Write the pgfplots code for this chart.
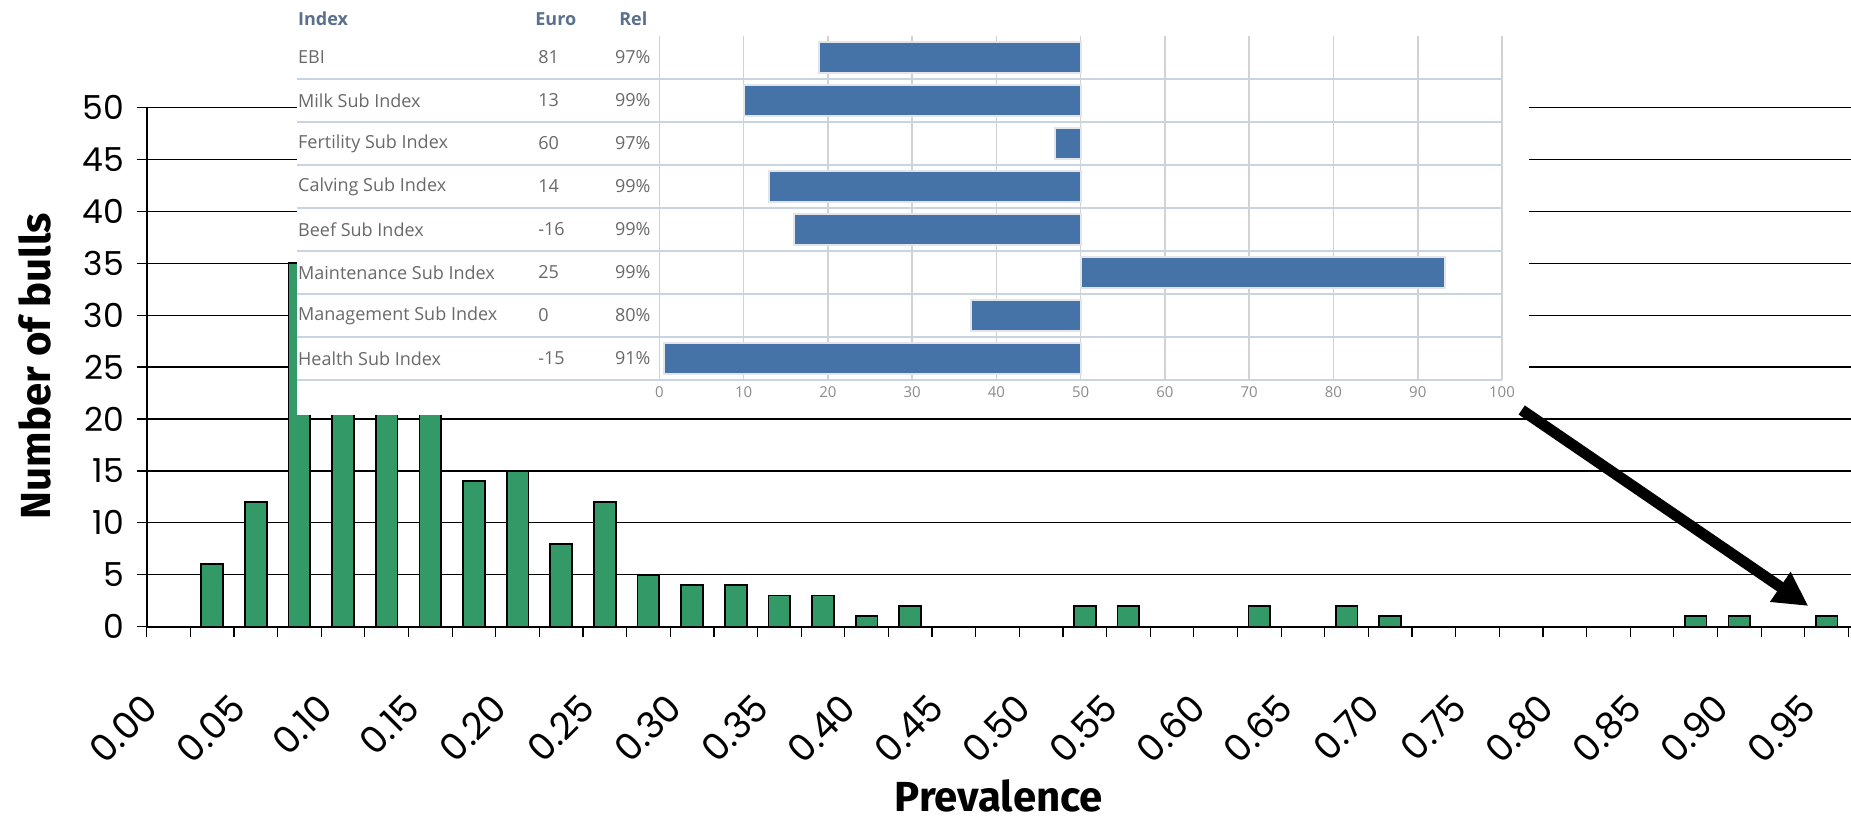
\documentclass[border=0pt]{standalone}
\usepackage{fontspec}
\usepackage{pgfplots}
\pgfplotsset{compat=1.18}
\usepackage{pgfplotstable}
\usetikzlibrary{arrows.meta}
\setmainfont{Liberation Sans}
\newfontfamily\tickfont{Poppins}
\newfontfamily\labfont{Fira Sans}
\newfontfamily\tabfont{Open Sans}

\definecolor{bargreen}{RGB}{51,153,102}
\definecolor{hcblue}{RGB}{69,114,167}
\definecolor{hcborder}{RGB}{225,228,232}
\definecolor{rowline}{RGB}{200,212,226}
\definecolor{gridgray}{RGB}{210,210,210}
\definecolor{txtgray}{RGB}{105,105,105}
\definecolor{headblue}{RGB}{90,112,140}
\definecolor{ticgray}{RGB}{140,140,140}

\tikzset{
  tabtxt/.style={font=\tabfont\fontsize{9}{11}\selectfont, text=txtgray, inner sep=0pt},
  tabhead/.style={font=\tabfont\bfseries\fontsize{9}{11}\selectfont, text=headblue, inner sep=0pt, anchor=west},
}

\pgfplotstableread{
x y
0.0375 6
0.0625 12
0.0875 35
0.1125 21
0.1375 21
0.1625 21
0.1875 14
0.2125 15
0.2375 8
0.2625 12
0.2875 5
0.3125 4
0.3375 4
0.3625 3
0.3875 3
0.4125 1
0.4375 2
0.5375 2
0.5625 2
0.6375 2
0.6875 2
0.7125 1
0.8875 1
0.9125 1
0.9625 1
}\histdata

% inset bars: value relative to the 50 centre line (row 8 = EBI ... row 1 = Health)
\pgfplotstableread{
v r
-31 8
-40 7
-3 6
-37 5
-34 4
43.2 3
-13 2
-49.5 1
}\insetdata

\begin{document}
\begin{tikzpicture}
\path[use as bounding box] (0,0) rectangle (925.5pt,409.5pt);

\begin{axis}[
  at={(73.35pt,96.15pt)}, anchor=south west,
  scale only axis, width=852.15pt, height=259.65pt,
  xmin=0, xmax=0.9765, ymin=0, ymax=50,
  axis x line*=bottom, axis y line*=left,
  xtick={0,0.05,0.1,0.15,0.2,0.25,0.3,0.35,0.4,0.45,0.5,0.55,0.6,0.65,0.7,0.75,0.8,0.85,0.9,0.95},
  xticklabels={0.00,0.05,0.10,0.15,0.20,0.25,0.30,0.35,0.40,0.45,0.50,0.55,0.60,0.65,0.70,0.75,0.80,0.85,0.90,0.95},
  minor xtick={0.025,0.075,0.125,0.175,0.225,0.275,0.325,0.375,0.425,0.475,0.525,0.575,0.625,0.675,0.725,0.775,0.825,0.875,0.925,0.975},
  ytick={0,5,...,50},
  tick align=outside, major tick length=5pt, minor tick length=5pt,
  tick style={black, line width=0.6pt},
  ymajorgrids, major grid style={black, line width=0.6pt},
  axis line style={black, line width=0.8pt},
  /pgf/number format/assume math mode=true,
  yticklabel style={font=\tickfont\fontsize{16.5}{19}\selectfont, xshift=-2.9pt},
  xticklabel style={font=\tickfont\fontsize{18.5}{21}\selectfont, inner sep=3pt, xshift=4.3pt, yshift=-30pt, rotate=45, anchor=east},
  xlabel={Prevalence}, ylabel={Number of bulls},
  xlabel style={at={(rel axis cs:0.5,-0.326)}, anchor=center, inner sep=0pt, font=\labfont\bfseries\fontsize{21}{25}\selectfont},
  ylabel style={at={(rel axis cs:-0.0655,0.502)}, anchor=center, inner sep=0pt, font=\labfont\bfseries\fontsize{21}{25}\selectfont},
]
\addplot[ybar, bar width=0.0125, fill=bargreen, draw=black, line width=0.9pt] table[x=x, y=y] {\histdata};
\end{axis}

% inset screenshot background
\fill[white] (148.5pt,202pt) rectangle (764.5pt,409.5pt);

\begin{axis}[
  at={(329.65pt,219.5pt)}, anchor=south west,
  scale only axis, width=421.35pt, height=172pt,
  xmin=-50, xmax=50, ymin=0.5, ymax=8.5,
  clip=false,
  axis line style={draw=none},
  xtick={-50,-40,...,50},
  xticklabels={0,10,20,30,40,50,60,70,80,90,100},
  ytick=\empty,
  major tick length=0pt,
  xmajorgrids, major grid style={gridgray, line width=0.8pt},
  xticklabel style={font=\tabfont\fontsize{7.5}{9}\selectfont, text=ticgray},
]
\addplot[xbar, bar width=0.72, fill=hcblue, draw=hcborder, line width=1pt] table[x=v, y=r] {\insetdata};

\draw[rowline, line width=0.9pt] (axis cs:-93,0.5) -- (axis cs:50,0.5);
\draw[rowline, line width=0.9pt] (axis cs:-93,1.5) -- (axis cs:50,1.5);
\draw[rowline, line width=0.9pt] (axis cs:-93,2.5) -- (axis cs:50,2.5);
\draw[rowline, line width=0.9pt] (axis cs:-93,3.5) -- (axis cs:50,3.5);
\draw[rowline, line width=0.9pt] (axis cs:-93,4.5) -- (axis cs:50,4.5);
\draw[rowline, line width=0.9pt] (axis cs:-93,5.5) -- (axis cs:50,5.5);
\draw[rowline, line width=0.9pt] (axis cs:-93,6.5) -- (axis cs:50,6.5);
\draw[rowline, line width=0.9pt] (axis cs:-93,7.5) -- (axis cs:50,7.5);

\node[tabhead] at (axis cs:-92.9,8.9) {Index};
\node[tabhead] at (axis cs:-64.75,8.9) {Euro};
\node[tabhead] at (axis cs:-54.8,8.9) {Rel};
\node[tabtxt, anchor=west] at (axis cs:-92.9,8) {EBI};
\node[tabtxt, anchor=west] at (axis cs:-92.9,7) {Milk Sub Index};
\node[tabtxt, anchor=west] at (axis cs:-92.9,6) {Fertility Sub Index};
\node[tabtxt, anchor=west] at (axis cs:-92.9,5) {Calving Sub Index};
\node[tabtxt, anchor=west] at (axis cs:-92.9,4) {Beef Sub Index};
\node[tabtxt, anchor=west] at (axis cs:-92.9,3) {Maintenance Sub Index};
\node[tabtxt, anchor=west] at (axis cs:-92.9,2) {Management Sub Index};
\node[tabtxt, anchor=west] at (axis cs:-92.9,1) {Health Sub Index};
\node[tabtxt, anchor=west] at (axis cs:-64.4,8) {81};
\node[tabtxt, anchor=west] at (axis cs:-64.4,7) {13};
\node[tabtxt, anchor=west] at (axis cs:-64.4,6) {60};
\node[tabtxt, anchor=west] at (axis cs:-64.4,5) {14};
\node[tabtxt, anchor=west] at (axis cs:-64.4,4) {-16};
\node[tabtxt, anchor=west] at (axis cs:-64.4,3) {25};
\node[tabtxt, anchor=west] at (axis cs:-64.4,2) {0};
\node[tabtxt, anchor=west] at (axis cs:-64.4,1) {-15};
\node[tabtxt, anchor=east] at (axis cs:-51.0,8) {97\%};
\node[tabtxt, anchor=east] at (axis cs:-51.0,7) {99\%};
\node[tabtxt, anchor=east] at (axis cs:-51.0,6) {97\%};
\node[tabtxt, anchor=east] at (axis cs:-51.0,5) {99\%};
\node[tabtxt, anchor=east] at (axis cs:-51.0,4) {99\%};
\node[tabtxt, anchor=east] at (axis cs:-51.0,3) {99\%};
\node[tabtxt, anchor=east] at (axis cs:-51.0,2) {80\%};
\node[tabtxt, anchor=east] at (axis cs:-51.0,1) {91\%};
\end{axis}

\draw[line width=5.5pt, -{Triangle[length=17pt, width=17pt]}] (760.85pt,204.5pt) -- (904.15pt,106.5pt);
\end{tikzpicture}
\end{document}
